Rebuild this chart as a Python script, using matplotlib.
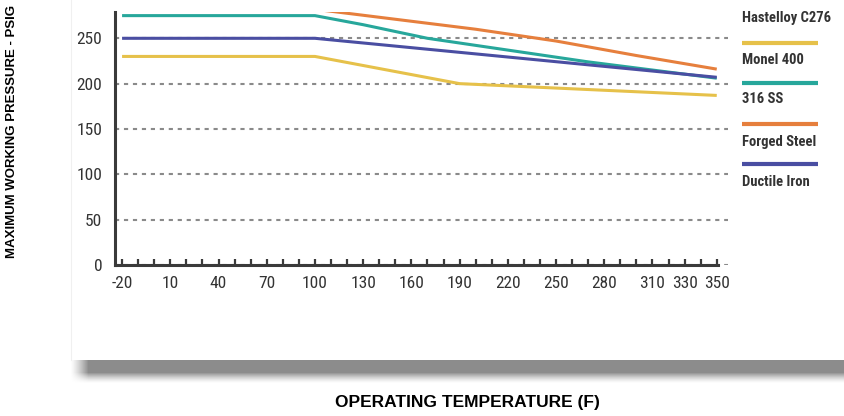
import numpy as np
import matplotlib
matplotlib.use("Agg")
import matplotlib.pyplot as plt
from matplotlib.ticker import FixedLocator, FixedFormatter
from matplotlib import font_manager

# ---- data -------------------------------------------------------------
monel_temps = [-20, 100, 190, 350]
monel_400 = [230, 230, 200, 187]

ss316_temps = [-20, 100, 130, 170, 220, 270, 350]
ss_316 = [275, 275, 265, 250, 237, 224, 206]

forged_temps = [-20, 100, 150, 200, 250, 300, 350]
forged_steel = [282, 282, 271, 260, 247, 231, 216]

ductile_temps = [-20, 100, 350]
ductile_iron = [250, 250, 207]

x_tick_values = list(range(-20, 351, 10))
x_tick_labels = [-20, 10, 40, 70, 100, 130, 160, 190, 220, 250, 280, 310, 330, 350]
y_ticks = [0, 50, 100, 150, 200, 250]

legend_labels = ["Hastelloy C276", "Monel 400", "316 SS", "Forged Steel", "Ductile Iron"]

# ---- style ------------------------------------------------------------
W, H = 845, 416
installed = {f.name for f in font_manager.fontManager.ttflist}
narrow = [f for f in ["Roboto Condensed", "DejaVu Sans Condensed",
                      "Liberation Sans Narrow", "Roboto"] if f in installed] + ["DejaVu Sans"]
dark = "#333333"
c_yellow = "#E6C14A"
c_teal = "#27A79B"
c_orange = "#E67F3D"
c_blue = "#4A4EA2"

fig = plt.figure(figsize=(W / 100, H / 100), dpi=100)
fig.patch.set_facecolor("white")

# background layer in pixel coordinates (card edge + drop shadow)
bg = fig.add_axes([0, 0, 1, 1], zorder=0)
bg.set_xlim(0, W)
bg.set_ylim(H, 0)
bg.axis("off")
bg.plot([71, 71], [0, 360], color="#f0f0f0", lw=0.8)

sh_h, sh_w = 24, W - 70
rows = np.arange(sh_h)
v = np.where(rows < 12, 1.0, np.clip(1 - (rows - 12) / 11.0, 0, 1) ** 1.5)
cols = np.arange(sh_w)
hramp = np.clip(cols / 18.0, 0, 1) ** 1.3
alpha = v[:, None] * hramp[None, :]
shadow = np.zeros((sh_h, sh_w, 4))
shadow[..., :3] = 0.55
shadow[..., 3] = alpha
bg.imshow(shadow, extent=(70, W, 360 + sh_h, 360), aspect="auto",
          interpolation="bilinear")

# ---- main chart -------------------------------------------------------
left, right, top, bottom = 115, 728, 12, 265
ax = fig.add_axes([left / W, 1 - bottom / H, (right - left) / W, (bottom - top) / H],
                  zorder=2)
ax.patch.set_alpha(0)
ax.set_xlim(-24.4, 357)
ax.set_ylim(0, 279)

lw = 2.2
ax.plot(monel_temps, monel_400, color=c_yellow, lw=lw, solid_capstyle="butt", zorder=3)
ax.plot(forged_temps, forged_steel, color=c_orange, lw=lw, solid_capstyle="butt", zorder=3)
ax.plot(ss316_temps, ss_316, color=c_teal, lw=lw, solid_capstyle="butt", zorder=3)
ax.plot(ductile_temps, ductile_iron, color=c_blue, lw=lw, solid_capstyle="butt", zorder=4)

for s in ["top", "right"]:
    ax.spines[s].set_visible(False)
for s in ["left", "bottom"]:
    ax.spines[s].set_linewidth(2.2)
    ax.spines[s].set_color("#3a3a3a")
    ax.spines[s].set_zorder(5)
ax.spines["bottom"].set_bounds(-24.4, 350.5)

labels = [str(t) if t in x_tick_labels else "" for t in x_tick_values]
ax.xaxis.set_major_locator(FixedLocator(x_tick_values))
ax.xaxis.set_major_formatter(FixedFormatter(labels))
ax.tick_params(axis="x", direction="in", length=4, width=1.6, color="#3a3a3a",
               pad=8, labelsize=12.5, labelcolor=dark)
ax.set_yticks(y_ticks)
ax.tick_params(axis="y", length=0, pad=9, labelsize=12.5, labelcolor=dark)
for lab in ax.get_xticklabels() + ax.get_yticklabels():
    lab.set_family(narrow)
    lab.set_fontstretch("condensed")
    lab.set_fontweight("normal")

ax.yaxis.grid(True, color="#8a8a8a", lw=1.5, ls=(0, (2, 2.3)))
ax.set_axisbelow(True)

# ---- legend (drawn manually, right of the plot) -----------------------
lg = fig.add_axes([0, 0, 1, 1], zorder=3)
lg.set_xlim(0, W)
lg.set_ylim(H, 0)
lg.axis("off")
text_y = [18, 60, 99, 142, 182]
line_y = [43, 83, 124, 164]
for lab, ty in zip(legend_labels, text_y):
    lg.text(742, ty, lab, ha="left", va="center", fontsize=10.5, color=dark,
            family=narrow, fontstretch="condensed", fontweight="bold")
for col, ly in zip([c_yellow, c_teal, c_orange, c_blue], line_y):
    lg.plot([742, 818], [ly, ly], color=col, lw=3, solid_capstyle="butt")

# ---- axis titles ------------------------------------------------------
fig.text(12 / W, 1 - 131 / H, "MAXIMUM WORKING PRESSURE - PSIG", rotation=90,
         ha="center", va="center", fontsize=9.5, fontweight="bold",
         family=["Liberation Sans", "DejaVu Sans"], color="black")
fig.text(467 / W, 1 - 403 / H, "OPERATING TEMPERATURE (F)", ha="center",
         va="center", fontsize=12.5, fontweight="bold",
         family=["Liberation Sans", "DejaVu Sans"], color="black")

fig.savefig("out.png", dpi=100, facecolor="white")
